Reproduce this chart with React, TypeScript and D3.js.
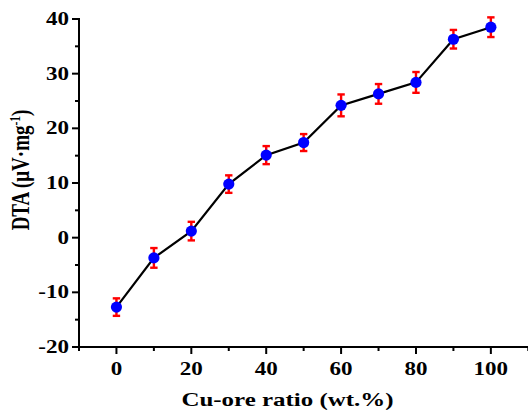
import React from "react";
import * as d3 from "d3";

const width = 528;
const height = 411;
const margin = { top: 19, right: 0, bottom: 64, left: 79 };

// Cu-ore ratio (wt.%) and DTA values
const ratios = [0, 10, 20, 30, 40, 50, 60, 70, 80, 90, 100];
const dta = [-12.7, -3.7, 1.2, 9.8, 15.1, 17.4, 24.2, 26.3, 28.4, 36.3, 38.5];
const errs = [1.6, 1.8, 1.7, 1.6, 1.65, 1.55, 2.0, 1.8, 1.9, 1.7, 1.8];

const xMajor = [0, 20, 40, 60, 80, 100];
const xMinor = [-10, 10, 30, 50, 70, 90, 110];
const yMajor = [-20, -10, 0, 10, 20, 30, 40];
const yMinor = [-15, -5, 5, 15, 25, 35];

const font = "'Liberation Serif', 'Times New Roman', serif";
// the original picture is stretched sideways a bit
const stretch = 1.28;

export default function App() {
  const x = d3
    .scaleLinear()
    .domain([-10, 110])
    .range([margin.left, margin.left + 449.3]);
  const y = d3
    .scaleLinear()
    .domain([-20, 40])
    .range([height - margin.bottom, margin.top]);

  const pts = ratios.map((r, i) => ({ r, v: dta[i], e: errs[i] }));
  const line = d3
    .line<{ r: number; v: number }>()
    .x((d) => x(d.r))
    .y((d) => y(d.v));

  const x0 = margin.left;
  const yBase = y(-20);

  return (
    <svg
      width={width}
      height={height}
      style={{ position: "absolute", left: 0, top: 0, background: "#fff" }}
      fontFamily={font}
      fontWeight="bold"
    >
      {/* line */}
      <path d={line(pts) || ""} fill="none" stroke="#000" strokeWidth={2.2} />

      {/* error bars */}
      {pts.map((d, i) => (
        <g key={"e" + i} stroke="#ff0000" strokeWidth={2.4}>
          <line x1={x(d.r)} x2={x(d.r)} y1={y(d.v - d.e)} y2={y(d.v + d.e)} />
          <line x1={x(d.r) - 3.7} x2={x(d.r) + 3.7} y1={y(d.v - d.e)} y2={y(d.v - d.e)} />
          <line x1={x(d.r) - 3.7} x2={x(d.r) + 3.7} y1={y(d.v + d.e)} y2={y(d.v + d.e)} />
        </g>
      ))}

      {/* markers */}
      {pts.map((d, i) => (
        <circle key={"c" + i} cx={x(d.r)} cy={y(d.v)} r={5.6} fill="#0000ff" />
      ))}

      {/* axes */}
      <line x1={x0} x2={x0} y1={y(40) - 1} y2={yBase + 1} stroke="#000" strokeWidth={2} />
      <line x1={x0 - 1} x2={width} y1={yBase} y2={yBase} stroke="#000" strokeWidth={2} />

      {yMajor.map((t) => (
        <g key={"ym" + t}>
          <line x1={x0 - 7} x2={x0} y1={y(t)} y2={y(t)} stroke="#000" strokeWidth={2} />
          <text
            transform={`translate(${x0 - 10},${y(t) + 6}) scale(${stretch},1)`}
            textAnchor="end"
            fontSize={18}
          >
            {t}
          </text>
        </g>
      ))}
      {yMinor.map((t) => (
        <line key={"yn" + t} x1={x0 - 4} x2={x0} y1={y(t)} y2={y(t)} stroke="#000" strokeWidth={2} />
      ))}

      {xMajor.map((t) => (
        <g key={"xm" + t}>
          <line x1={x(t)} x2={x(t)} y1={yBase} y2={yBase + 7} stroke="#000" strokeWidth={2} />
          <text
            transform={`translate(${x(t)},${yBase + 28}) scale(${stretch},1)`}
            textAnchor="middle"
            fontSize={18}
          >
            {t}
          </text>
        </g>
      ))}
      {xMinor.map((t) => (
        <line key={"xn" + t} x1={x(t)} x2={x(t)} y1={yBase} y2={yBase + 4} stroke="#000" strokeWidth={2} />
      ))}

      {/* titles */}
      <text
        transform={`translate(287.5,406) scale(${stretch},1)`}
        textAnchor="middle"
        fontSize={19.5}
      >
        Cu-ore ratio (wt.%)
      </text>
      <text
        transform={`translate(29,170) rotate(-90) scale(1,${stretch})`}
        textAnchor="middle"
        fontSize={19}
      >
        DTA (μV·mg
        <tspan dy={-7} fontSize={11.5}>
          -1
        </tspan>
        <tspan dy={7}>)</tspan>
      </text>
    </svg>
  );
}
